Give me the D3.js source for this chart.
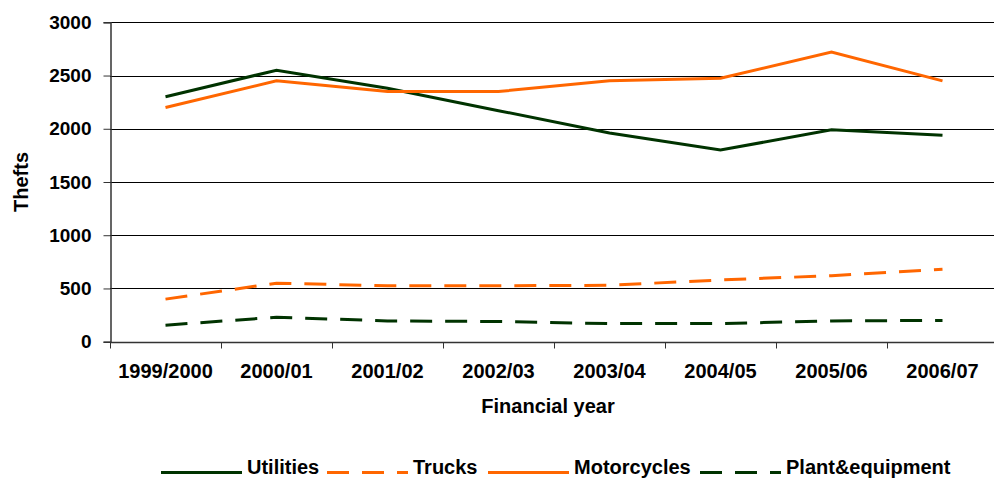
<!DOCTYPE html>
<html>
<head>
<meta charset="utf-8">
<script src="https://cdn.jsdelivr.net/npm/d3@7"></script>
<style>
  body { margin: 0; background: #fff; }
  text { font-family: "Liberation Sans", Arial, sans-serif; font-weight: bold; fill: #000; }
</style>
</head>
<body>
<div id="chart"></div>
<script>
"use strict";

const years = ['1999/2000', '2000/01', '2001/02', '2002/03', '2003/04', '2004/05', '2005/06', '2006/07'];
const utilities = [2300, 2550, 2380, 2170, 1960, 1800, 1990, 1940];
const trucks = [400, 550, 525, 525, 530, 580, 620, 680];
const motorcycles = [2200, 2450, 2350, 2350, 2450, 2475, 2720, 2450];
const plant = [155, 230, 195, 190, 170, 170, 195, 200];
const yTicks = [0, 500, 1000, 1500, 2000, 2500, 3000];

const series = [
  { name: 'Utilities', values: utilities, color: '#003300', dash: null },
  { name: 'Trucks', values: trucks, color: '#ff6600', dash: '22,13' },
  { name: 'Motorcycles', values: motorcycles, color: '#ff6600', dash: null },
  { name: 'Plant&equipment', values: plant, color: '#003300', dash: '22,13' }
];

const width = 994;
const height = 480;
const plot = { left: 110, right: 998, top: 22.3, bottom: 341.7 };

let svg = d3.select('#chart')
  .append('svg')
  .attr('width', width)
  .attr('height', height);

let x = d3.scaleBand()
  .domain(years)
  .range([plot.left, plot.right]);

let y = d3.scaleLinear()
  .domain([0, 3000])
  .range([plot.bottom, plot.top]);

// gridlines
svg.append('g')
  .selectAll('line')
  .data(yTicks)
  .join('line')
  .attr('x1', plot.left)
  .attr('x2', width)
  .attr('y1', d => Math.round(y(d)) + 0.5)
  .attr('y2', d => Math.round(y(d)) + 0.5)
  .attr('stroke', '#000')
  .attr('stroke-width', 1);

// y axis
let yAxis = svg.append('g')
  .attr('transform', 'translate(' + (plot.left + 0.5) + ',0)')
  .call(d3.axisLeft(y).tickValues(yTicks).tickFormat(d3.format('d')).tickSize(7).tickPadding(12));
yAxis.select('.domain').attr('stroke', '#333').attr('stroke-width', 1.5);
yAxis.selectAll('.tick line').attr('stroke', '#333');
yAxis.selectAll('.tick text')
  .attr('font-size', 19)
  .attr('font-family', '"Liberation Sans", Arial, sans-serif');

// x axis ticks at category boundaries
let xAxis = svg.append('g')
  .attr('transform', 'translate(0,' + (Math.round(plot.bottom) + 0.5) + ')');
xAxis.append('line')
  .attr('x1', plot.left)
  .attr('x2', width)
  .attr('stroke', '#333')
  .attr('stroke-width', 1.5);
xAxis.selectAll('line.tk')
  .data(years)
  .join('line')
  .attr('class', 'tk')
  .attr('x1', d => Math.round(x(d)) + 0.5)
  .attr('x2', d => Math.round(x(d)) + 0.5)
  .attr('y1', 0)
  .attr('y2', 6)
  .attr('stroke', '#333');
xAxis.selectAll('text')
  .data(years)
  .join('text')
  .attr('x', d => x(d) + x.bandwidth() / 2)
  .attr('y', 35)
  .attr('text-anchor', 'middle')
  .attr('font-size', 20)
  .text(d => d);

// axis titles
svg.append('text')
  .attr('transform', 'translate(28,182) rotate(-90)')
  .attr('text-anchor', 'middle')
  .attr('font-size', 20)
  .text('Thefts');

svg.append('text')
  .attr('x', 548)
  .attr('y', 413)
  .attr('text-anchor', 'middle')
  .attr('font-size', 20)
  .text('Financial year');

// lines
let line = d3.line()
  .x((d, i) => x(years[i]) + x.bandwidth() / 2)
  .y(d => y(d));

svg.append('g')
  .selectAll('path')
  .data(series)
  .join('path')
  .attr('d', d => line(d.values))
  .attr('fill', 'none')
  .attr('stroke', d => d.color)
  .attr('stroke-width', 3)
  .attr('stroke-dasharray', d => d.dash);

// legend
const legendX = [161, 327, 488, 700];
let legend = svg.append('g')
  .selectAll('g')
  .data(series)
  .join('g')
  .attr('transform', (d, i) => 'translate(' + legendX[i] + ',472.5)');

legend.append('line')
  .attr('x1', 0)
  .attr('x2', 81)
  .attr('stroke', d => d.color)
  .attr('stroke-width', 3)
  .attr('stroke-dasharray', d => d.dash);

legend.append('text')
  .attr('x', 86)
  .attr('y', 1.5)
  .attr('font-size', 20)
  .text(d => d.name);
</script>
</body>
</html>
